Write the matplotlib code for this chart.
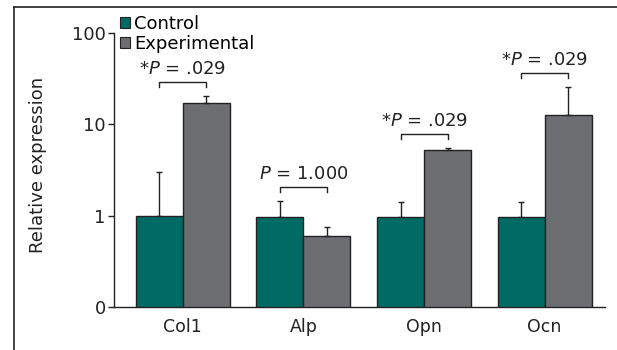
import numpy as np
import matplotlib.pyplot as plt
from matplotlib.patches import Patch
from matplotlib.lines import Line2D

# data
genes = ['Col1', 'Alp', 'Opn', 'Ocn']
control = [1.0, 0.97, 0.97, 0.97]
control_err_top = [3.0, 1.45, 1.4, 1.4]
experimental = [17.0, 0.6, 5.3, 12.8]
experimental_err_top = [20.5, 0.75, 5.5, 25.5]
p_labels = ['*$\\it{P}$ = .029', '$\\it{P}$ = 1.000', '*$\\it{P}$ = .029', '*$\\it{P}$ = .029']

plt.rcParams['font.family'] = 'DejaVu Sans'
plt.rcParams['mathtext.fontset'] = 'dejavusans'

teal = '#006b64'
grey = '#6d6e71'

fig = plt.figure(figsize=(6.17, 3.5), dpi=100)
ax = fig.add_axes([0.1848, 0.1229, 0.7957, 0.7828])

x = np.arange(len(genes))
w = 0.39
ctrl = np.array(control)
expt = np.array(experimental)
ax.bar(x - w / 2, ctrl, w, color=teal, edgecolor='#222222', linewidth=1)
ax.bar(x + w / 2, expt, w, color=grey, edgecolor='#222222', linewidth=1)

# upper error bars only
ax.errorbar(x - w / 2, ctrl, yerr=[np.zeros(4), np.array(control_err_top) - ctrl],
            fmt='none', ecolor='#222222', elinewidth=1, capsize=2.5, capthick=1)
ax.errorbar(x + w / 2, expt, yerr=[np.zeros(4), np.array(experimental_err_top) - expt],
            fmt='none', ecolor='#222222', elinewidth=1, capsize=2.5, capthick=1)

# significance brackets
for i in range(len(genes)):
    top = max(control_err_top[i], experimental_err_top[i]) * 1.42
    leg = top / 1.13
    ax.plot([x[i] - w / 2, x[i] - w / 2, x[i] + w / 2, x[i] + w / 2],
            [leg, top, top, leg], color='#222222', lw=1)
    ax.annotate(p_labels[i], (x[i], top), xytext=(0, 3), textcoords='offset points',
                ha='center', va='bottom', fontsize=13, color='#222222')

ax.set_yscale('log')
ax.set_ylim(0.1, 100)
ax.set_xlim(-0.57, 3.5)
ax.set_yticks([0.1, 1, 10, 100])
ax.set_yticklabels(['0', '1', '10', '100'])
ax.yaxis.set_minor_locator(plt.NullLocator())
ax.set_xticks(x)
ax.set_xticklabels(genes)
ax.tick_params(axis='x', length=0, pad=8, labelsize=12.5, colors='#222222')
ax.tick_params(axis='y', length=4, width=1, pad=2, labelsize=13, colors='#222222')
ax.spines['top'].set_visible(False)
ax.spines['right'].set_visible(False)
for s in ['left', 'bottom']:
    ax.spines[s].set_color('#222222')
    ax.spines[s].set_linewidth(1)
ax.set_ylabel('Relative expression', fontsize=13, color='#222222')
ax.yaxis.set_label_coords(-0.136, 0.52)

handles = [Patch(facecolor=teal, edgecolor='#222222', linewidth=0.8),
           Patch(facecolor=grey, edgecolor='#222222', linewidth=0.8)]
fig.legend(handles, ['Control', 'Experimental'], loc='upper left',
           bbox_to_anchor=(120 / 617, 1 - 15 / 350), frameon=False, fontsize=13,
           handlelength=0.55, handleheight=0.55, handletextpad=0.25,
           labelspacing=0.1, borderpad=0, borderaxespad=0)

# frame lines of the original figure panel
fig.add_artist(Line2D([14 / 617, 1], [1 - 7 / 350, 1 - 7 / 350], color='#222222', lw=1.2))
fig.add_artist(Line2D([14 / 617, 14 / 617], [0, 1 - 7 / 350], color='#222222', lw=1.2))

fig.savefig('out.png', dpi=100)
